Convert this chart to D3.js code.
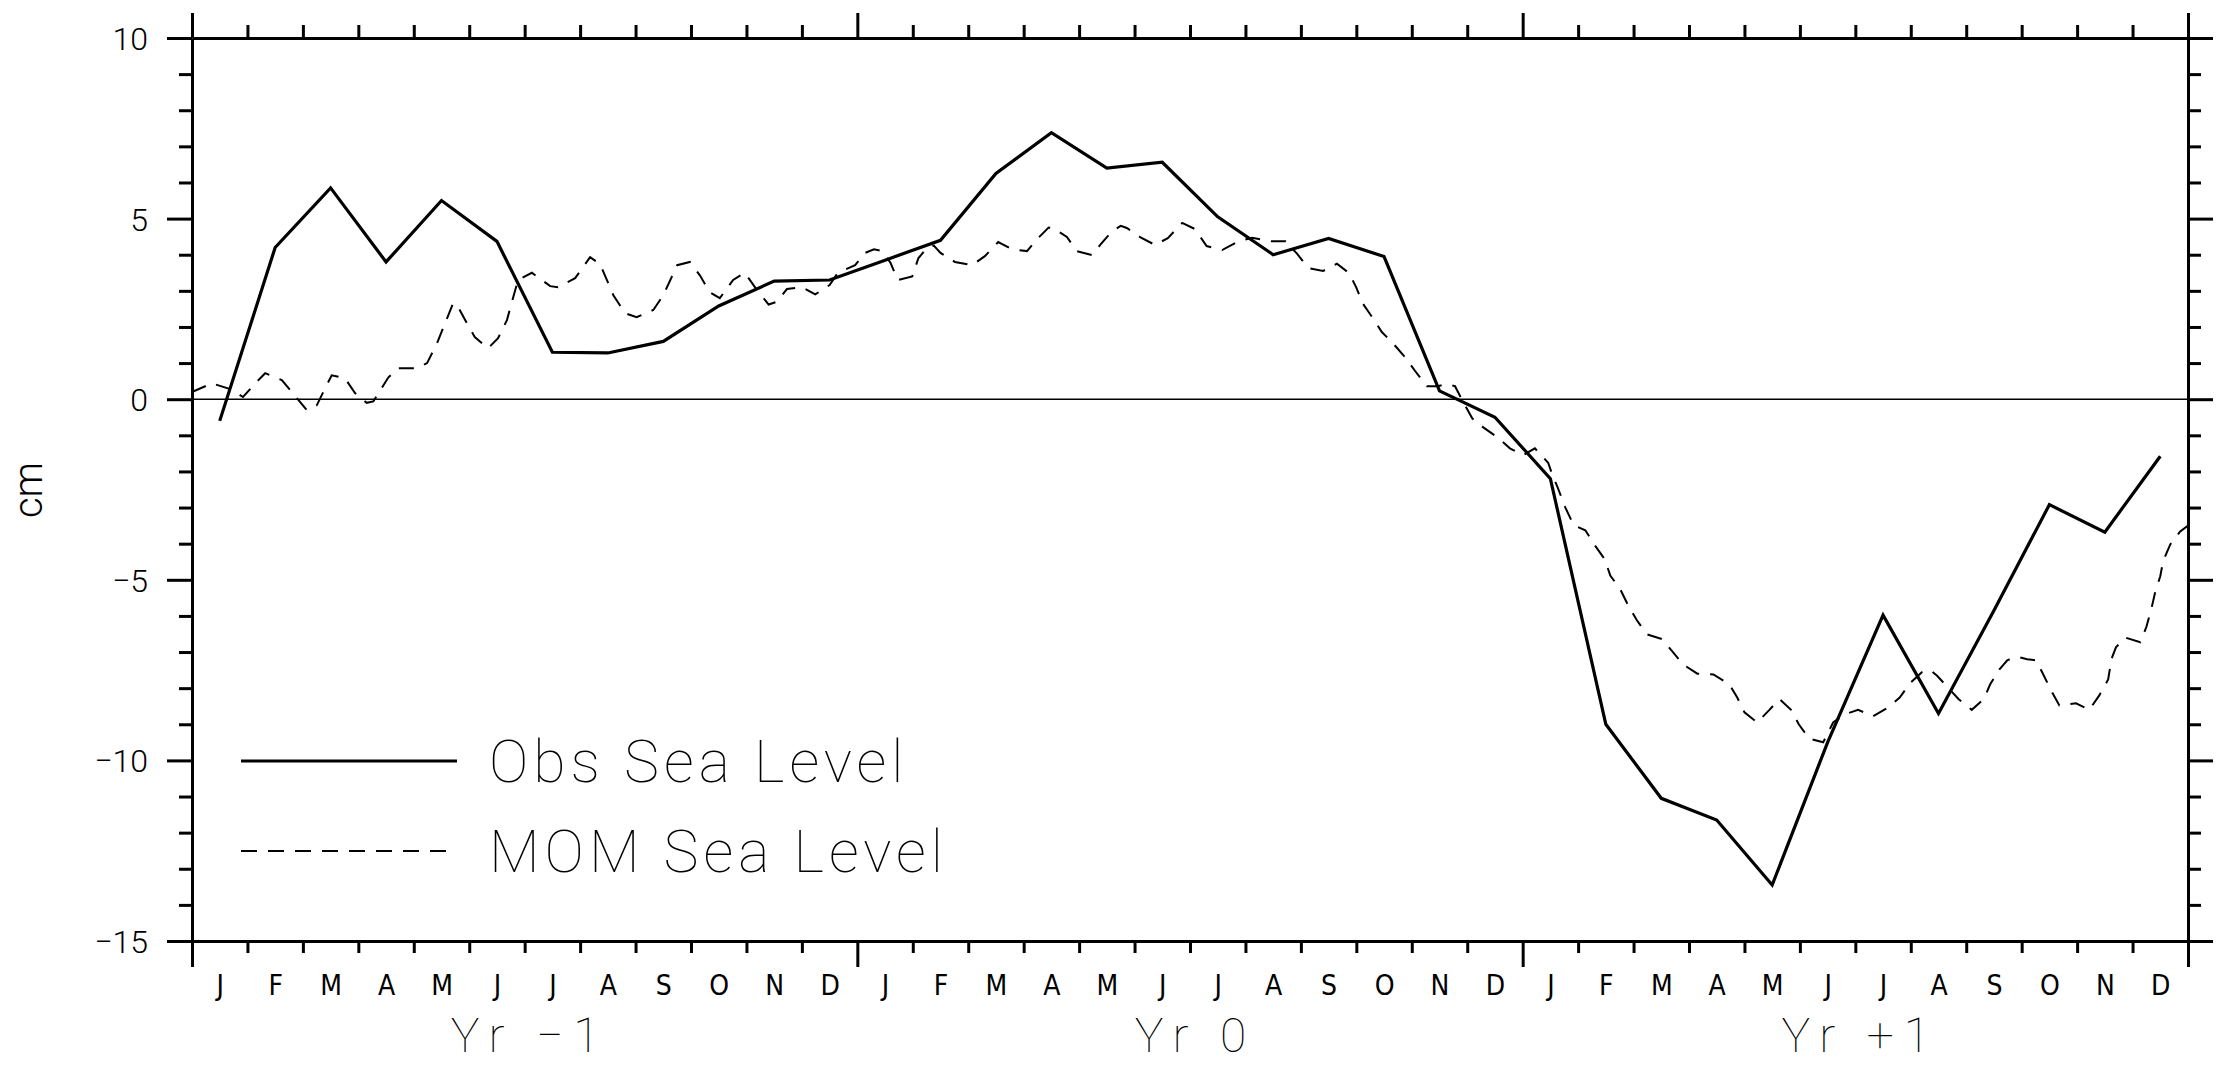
<!DOCTYPE html>
<html>
<head>
<meta charset="utf-8">
<script src="https://cdn.jsdelivr.net/npm/d3@7"></script>
<style>
  body { margin: 0; background: #fff; }
  .thin { font-family: Roboto, "Open Sans", sans-serif; font-weight: 100; fill: #000; }
  .light { font-family: Roboto, "Open Sans", sans-serif; font-weight: 300; fill: #000; }
  .mon { font-family: "Liberation Sans Narrow", "DejaVu Sans Condensed", sans-serif; fill: #000; }
  .axis path, .axis line { stroke: #000; stroke-width: 3; }
</style>
</head>
<body>
<div id="chart"></div>
<script>
const months = ['J', 'F', 'M', 'A', 'M', 'J', 'J', 'A', 'S', 'O', 'N', 'D'];
const yearLabels = ['Yr \u22121', 'Yr 0', 'Yr +1'];
const yTicks = d3.range(-15, 11);
const seriesNames = ['Obs Sea Level', 'MOM Sea Level'];

// monthly observed anomaly (cm), Jan Yr-1 .. Dec Yr+1
const obsSeaLevel = [
  -0.6, 4.2, 5.85, 3.8, 5.5, 4.37, 1.3, 1.28, 1.6, 2.58, 3.27, 3.3,
  3.85, 4.4, 6.25, 7.38, 6.4, 6.56, 5.05, 4.0, 4.45, 3.95, 0.23, -0.5,
  -2.2, -9.0, -11.05, -11.65, -13.45, -9.5, -5.98, -8.7, -5.85, -2.92, -3.68, -1.58
];

// model output, [months since Jan Yr-1, cm]
const momSeaLevel = [
  [0, 0.2], [0.36, 0.44], [0.69, 0.28], [0.92, 0.06], [1.14, 0.44], [1.32, 0.72], [1.62, 0.53],
  [1.8, 0.2], [2.07, -0.3], [2.25, -0.17], [2.4, 0.3], [2.52, 0.66], [2.76, 0.58], [2.94, 0.17],
  [3.15, -0.1], [3.27, -0.06], [3.54, 0.6], [3.72, 0.86], [4.06, 0.86], [4.24, 1.0], [4.42, 1.55],
  [4.71, 2.66], [4.8, 2.55], [4.96, 2.1], [5.1, 1.72], [5.34, 1.41], [5.52, 1.69], [5.68, 2.19],
  [5.88, 3.3], [6.13, 3.5], [6.46, 3.13], [6.6, 3.1], [6.91, 3.35], [7.18, 3.93], [7.36, 3.74],
  [7.6, 2.88], [7.81, 2.38], [8.02, 2.27], [8.32, 2.47], [8.5, 2.88], [8.75, 3.71], [8.98, 3.8],
  [9.16, 3.43], [9.34, 2.96], [9.52, 2.8], [9.76, 3.3], [9.97, 3.5], [10.2, 3.0], [10.4, 2.62],
  [10.55, 2.7], [10.73, 3.05], [11.0, 3.1], [11.24, 2.9], [11.5, 3.16], [11.65, 3.5],
  [11.96, 3.71], [12.14, 4.05], [12.3, 4.15], [12.45, 4.1], [12.6, 3.77], [12.73, 3.3],
  [12.99, 3.4], [13.1, 3.9], [13.26, 4.2], [13.38, 4.25], [13.5, 4.05], [13.76, 3.8],
  [14.07, 3.71], [14.3, 3.96], [14.54, 4.35], [14.79, 4.15], [15.06, 4.1], [15.26, 4.46],
  [15.45, 4.75], [15.53, 4.74], [15.78, 4.49], [15.96, 4.1], [16.23, 3.99], [16.38, 4.27],
  [16.58, 4.63], [16.75, 4.8], [16.86, 4.74], [17.1, 4.49], [17.37, 4.27], [17.6, 4.46],
  [17.86, 4.88], [18.09, 4.71], [18.3, 4.24], [18.58, 4.13], [18.87, 4.37], [19.12, 4.47],
  [19.48, 4.37], [19.72, 4.37], [19.93, 4.03], [20.13, 3.63], [20.4, 3.55], [20.65, 3.75],
  [20.87, 3.49], [21.0, 3.09], [21.12, 2.64], [21.3, 2.24], [21.46, 1.86], [21.66, 1.55],
  [21.88, 1.16], [22.06, 0.78], [22.27, 0.36], [22.47, 0.36], [22.63, 0.42], [22.78, 0.36],
  [22.89, 0.03], [23.09, -0.53], [23.29, -0.78], [23.56, -1.07], [23.77, -1.36], [24.01, -1.55],
  [24.22, -1.36], [24.46, -1.76], [24.55, -2.16], [24.62, -2.4], [24.77, -3.0], [24.92, -3.49],
  [25.13, -3.63], [25.3, -4.04], [25.48, -4.43], [25.58, -4.88], [25.76, -5.26], [25.9, -5.7],
  [26.06, -6.12], [26.24, -6.51], [26.51, -6.64], [26.71, -7.0], [26.89, -7.34], [27.15, -7.6],
  [27.44, -7.62], [27.73, -7.9], [27.87, -8.26], [28.0, -8.67], [28.23, -8.95], [28.45, -8.6],
  [28.63, -8.3], [28.84, -8.6], [28.98, -9.0], [29.17, -9.4], [29.42, -9.5], [29.6, -8.95],
  [29.8, -8.73], [30.05, -8.6], [30.32, -8.78], [30.6, -8.53], [30.8, -8.26], [31.0, -7.84],
  [31.2, -7.56], [31.35, -7.5], [31.47, -7.65], [31.67, -7.98], [31.86, -8.3], [32.1, -8.6],
  [32.32, -8.3], [32.43, -7.9], [32.6, -7.48], [32.74, -7.23], [32.86, -7.15], [32.97, -7.15],
  [33.1, -7.2], [33.26, -7.23], [33.37, -7.56], [33.53, -8.06], [33.68, -8.48], [33.98, -8.42],
  [34.22, -8.6], [34.4, -8.2], [34.56, -7.76], [34.62, -7.19], [34.7, -6.87], [34.87, -6.6],
  [35.14, -6.73], [35.25, -6.3], [35.34, -5.8], [35.41, -5.33], [35.5, -4.9], [35.55, -4.49],
  [35.68, -4.02], [35.86, -3.66], [36.0, -3.5]
];

const W = 2216, H = 1065;
const margin = { top: 38, right: 28, bottom: 124, left: 192 };
const width = W - margin.left - margin.right;
const height = H - margin.top - margin.bottom;
const nMonths = obsSeaLevel.length;

const x = d3.scaleLinear().domain([0, nMonths]).range([0, width]);
const y = d3.scaleLinear().domain([-15, 10]).range([height, 0]);

const isMajor = d => d % 5 === 0;
const isYear = d => d % 12 === 0;
const fmt = d3.format('d');

const root = d3.select('#chart').append('svg')
  .attr('width', W)
  .attr('height', H);

const svg = root.append('g')
  .attr('transform', 'translate(' + margin.left + ',' + margin.top + ')');

// zero line
svg.append('line')
  .attr('x1', 0).attr('x2', width)
  .attr('y1', y(0)).attr('y2', y(0))
  .attr('stroke', '#000')
  .attr('stroke-width', 1.6);

// series
const obsLine = d3.line()
  .x((d, i) => x(i + 0.5))
  .y(d => y(d));

const momLine = d3.line()
  .x(d => x(d[0]))
  .y(d => y(d[1]));

svg.append('path')
  .datum(momSeaLevel)
  .attr('d', momLine)
  .attr('fill', 'none')
  .attr('stroke', '#000')
  .attr('stroke-width', 2)
  .attr('stroke-dasharray', '15,11');

svg.append('path')
  .datum(obsSeaLevel)
  .attr('d', obsLine)
  .attr('fill', 'none')
  .attr('stroke', '#000')
  .attr('stroke-width', 3.2)
  .attr('stroke-linejoin', 'miter');

// frame with ticks
const monthEdges = d3.range(0, nMonths + 1);

svg.append('g')
  .attr('class', 'axis')
  .call(d3.axisLeft(y).tickValues(yTicks).tickSizeOuter(0).tickFormat(d => isMajor(d) ? fmt(d) : ''))
  .call(g => g.selectAll('.tick line').attr('x2', d => isMajor(d) ? -25 : -13))
  .call(g => g.selectAll('.tick text')
    .attr('class', 'light')
    .attr('x', -44)
    .attr('dy', '0.36em')
    .style('font-size', '32px'));

svg.append('g')
  .attr('class', 'axis')
  .attr('transform', 'translate(' + width + ',0)')
  .call(d3.axisRight(y).tickValues(yTicks).tickSizeOuter(0).tickFormat(''))
  .call(g => g.selectAll('.tick line').attr('x2', d => isMajor(d) ? 25 : 13));

svg.append('g')
  .attr('class', 'axis')
  .call(d3.axisTop(x).tickValues(monthEdges).tickSizeOuter(0).tickFormat(''))
  .call(g => g.selectAll('.tick line').attr('y2', d => isYear(d) ? -25 : -13));

svg.append('g')
  .attr('class', 'axis')
  .attr('transform', 'translate(0,' + height + ')')
  .call(d3.axisBottom(x).tickValues(monthEdges).tickSizeOuter(0).tickFormat(''))
  .call(g => g.selectAll('.tick line').attr('y2', d => isYear(d) ? 26 : 12));

// month and year labels
svg.append('g')
  .attr('transform', 'translate(0,' + height + ')')
  .call(d3.axisBottom(x)
    .tickValues(d3.range(nMonths).map(i => i + 0.5))
    .tickSize(0)
    .tickFormat((d, i) => months[i % 12]))
  .call(g => g.select('.domain').remove())
  .call(g => g.selectAll('.tick text')
    .attr('class', 'mon')
    .attr('y', 34)
    .attr('dy', '0.71em')
    .style('font-size', '28px'));

svg.append('g')
  .attr('transform', 'translate(0,' + height + ')')
  .call(d3.axisBottom(x)
    .tickValues(yearLabels.map((d, i) => i * 12 + 6))
    .tickSize(0)
    .tickFormat((d, i) => yearLabels[i]))
  .call(g => g.select('.domain').remove())
  .call(g => g.selectAll('.tick text')
    .attr('class', 'thin')
    .attr('y', 77)
    .attr('dx', 5)
    .attr('dy', '0.71em')
    .style('font-size', '48px')
    .style('letter-spacing', '10px'));

// y title
root.append('text')
  .attr('class', 'light')
  .attr('transform', 'translate(42,490) rotate(-90)')
  .attr('text-anchor', 'middle')
  .style('font-size', '40px')
  .text('cm');

// legend
const legend = root.append('g').attr('transform', 'translate(241,761)');
const legendRows = legend.selectAll('g')
  .data(seriesNames)
  .join('g')
  .attr('transform', (d, i) => 'translate(0,' + i * 90 + ')');

legendRows.append('line')
  .attr('x1', 0).attr('x2', 216)
  .attr('stroke', '#000')
  .attr('stroke-width', (d, i) => i === 0 ? 3.2 : 2)
  .attr('stroke-dasharray', (d, i) => i === 0 ? null : '16,11');

legendRows.append('text')
  .attr('class', 'thin')
  .attr('x', 248)
  .attr('y', 21)
  .style('font-size', '59px')
  .style('letter-spacing', '5px')
  .text(d => d);
</script>
</body>
</html>
